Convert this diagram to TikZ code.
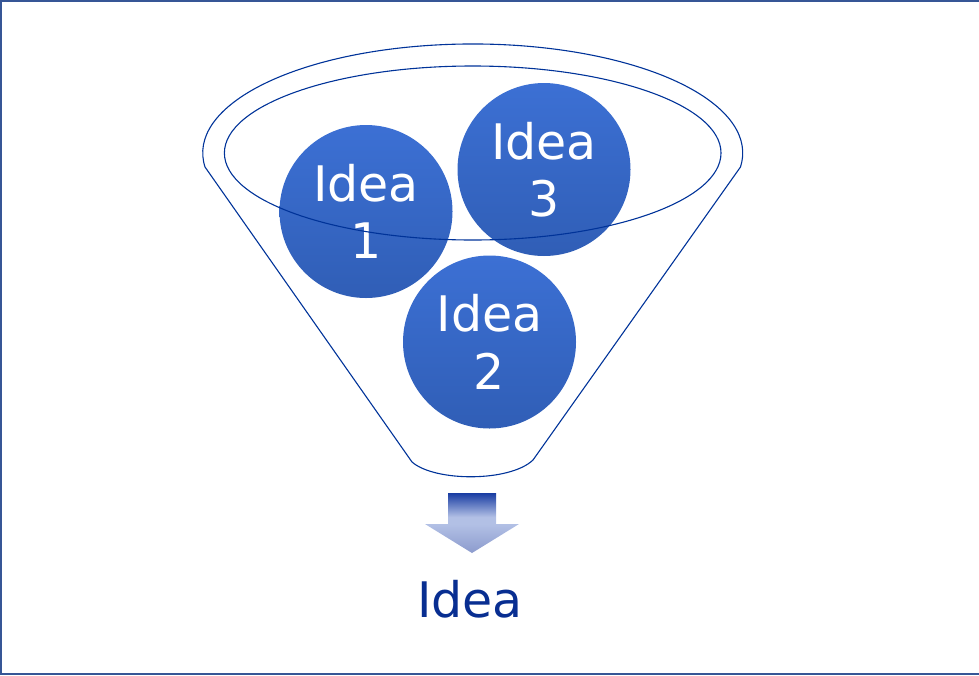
\documentclass[tikz,border=0pt]{standalone}
\usepackage{fontspec}
\setmainfont{DejaVu Sans}
\definecolor{ideatop}{RGB}{60,112,212}
\definecolor{ideabot}{RGB}{48,94,182}
\definecolor{funnelline}{RGB}{0,51,153}
\definecolor{frameline}{RGB}{54,86,150}
\definecolor{arrowdark}{RGB}{24,60,162}
\definecolor{arrowlight}{RGB}{178,192,229}
\definecolor{arrowtip}{RGB}{140,155,205}
\definecolor{ideatext}{RGB}{8,46,145}
\pgfdeclareverticalshading{arrowfade}{100bp}{color(0bp)=(arrowtip); color(25bp)=(arrowtip); color(49bp)=(arrowlight); color(55bp)=(arrowlight); color(75bp)=(arrowdark); color(100bp)=(arrowdark)}
\begin{document}
\begin{tikzpicture}[x=1pt, y=-1pt,
  idea/.style={circle, inner sep=0pt, minimum size=173pt, top color=ideatop, bottom color=ideabot, text=white, align=center, font=\fontsize{49}{57.5}\selectfont},
  funnel/.style={draw=funnelline, line width=1.1pt}]
\useasboundingbox (0,0) rectangle (979,675);
\draw[frameline, line width=1.6pt] (1,0.8) rectangle (990,674);
\node[idea] (idea1) at (366,211.5) {Idea\\1};
\node[idea] (idea3) at (544,169.5) {Idea\\3};
\node[idea] (idea2) at (489.5,342) {Idea\\2};
\draw[funnel] (472.7,153) ellipse[x radius=248.3, y radius=87];
\draw[funnel] (205,167) arc[start angle=172.6, end angle=367.4, x radius=270, y radius=109] -- (533,460) .. controls (510,482) and (435,482) .. (412,462) -- cycle;
\shade[shading=arrowfade] (448,493) -- (496,493) -- (496,524) -- (519,524) -- (472,553) -- (425,524) -- (448,524) -- cycle;
\node[text=ideatext, anchor=base, font=\fontsize{49}{57.5}\selectfont] (result) at (470,617) {Idea};
\end{tikzpicture}
\end{document}
